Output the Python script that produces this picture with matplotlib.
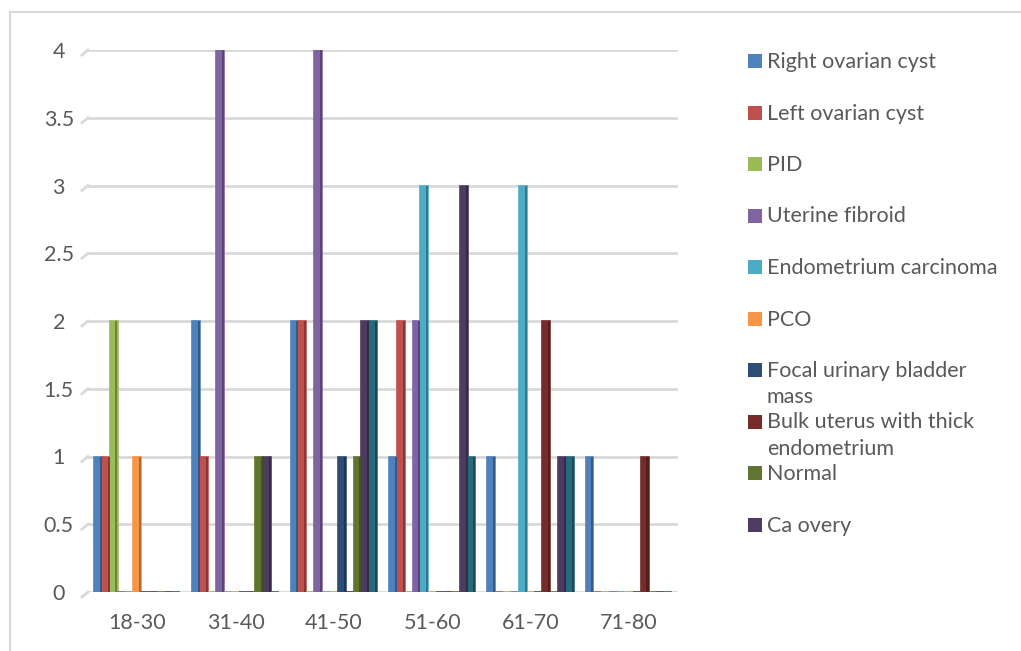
import matplotlib
matplotlib.use("Agg")
import matplotlib.pyplot as plt
from matplotlib.lines import Line2D
from matplotlib.patches import Rectangle
from matplotlib.colors import to_rgb
import numpy as np

age_groups = ["18-30", "31-40", "41-50", "51-60", "61-70", "71-80"]

right_ovarian_cyst = [1, 2, 2, 1, 1, 1]
left_ovarian_cyst = [1, 1, 2, 2, 0, 0]
pid = [2, 0, 0, 0, 0, 0]
uterine_fibroid = [0, 4, 4, 2, 0, 0]
endometrium_carcinoma = [0, 0, 0, 3, 3, 0]
pco = [1, 0, 0, 0, 0, 0]
focal_bladder_mass = [0, 0, 1, 0, 0, 0]
bulk_uterus = [0, 0, 0, 0, 2, 1]
normal = [0, 1, 1, 0, 0, 0]
ca_ovary = [0, 1, 2, 3, 1, 0]
unlabelled_series = [0, 0, 2, 1, 1, 0]

series = [right_ovarian_cyst, left_ovarian_cyst, pid, uterine_fibroid,
          endometrium_carcinoma, pco, focal_bladder_mass, bulk_uterus,
          normal, ca_ovary, unlabelled_series]

legend_labels = ["Right ovarian cyst", "Left ovarian cyst", "PID", "Uterine fibroid",
                 "Endometrium carcinoma", "PCO", "Focal urinary bladder\nmass",
                 "Bulk uterus with thick\nendometrium", "Normal", "Ca overy"]

colors = ["#4F81BD", "#C0504D", "#9BBB59", "#8064A2", "#4BACC6", "#F79646",
          "#2C4D75", "#772C2A", "#5F7530", "#4D3B62", "#276A7C"]

TEXT = "#595959"
GRID = "#D9D9D9"
FONT = "Lato"
FS = 15.5

W, H = 1021, 651
fig = plt.figure(figsize=(W / 100, H / 100), dpi=100)
fig.patch.set_facecolor("white")

# plot area in pixel terms
left, right, top, bottom = 88, 678, 50, 592
ax = fig.add_axes([left / W, 1 - bottom / H, (right - left) / W, (bottom - top) / H])

n = len(series)
bw = 0.08
x = np.arange(len(age_groups))
offsets = (np.arange(n) - (n - 1) / 2) * bw

for i, (vals, c) in enumerate(zip(series, colors)):
    xs = x + offsets[i]
    ax.bar(xs, vals, bw, color=c, edgecolor=c, linewidth=1.2, zorder=3)
    # darker right face for the bevelled look
    dark = tuple(v * 0.7 for v in to_rgb(c))
    ax.bar(xs + bw * 0.37, vals, bw * 0.26, color=dark, linewidth=0, zorder=4)

ax.set_xlim(-0.5, len(age_groups) - 0.5)
ax.set_ylim(0, 4)
ax.set_yticks(np.arange(0, 4.01, 0.5))
ax.set_yticklabels(["0", "0.5", "1", "1.5", "2", "2.5", "3", "3.5", "4"])
ax.set_xticks(x)
ax.set_xticklabels(age_groups)
ax.yaxis.grid(True, color=GRID, linewidth=2.0, zorder=0)
ax.set_axisbelow(True)
for s in ax.spines.values():
    s.set_visible(False)
ax.tick_params(length=0, labelsize=FS, labelcolor=TEXT)
ax.tick_params(axis="y", pad=21)
ax.tick_params(axis="x", pad=15)
for lab in ax.get_xticklabels() + ax.get_yticklabels():
    lab.set_fontfamily(FONT)
for lab in ax.get_yticklabels():
    lab.set_horizontalalignment("center")

# short slanted ends of the gridlines on the back wall
for yv in np.arange(0, 4.01, 0.5):
    y_px = bottom - (bottom - top) * yv / 4
    fig.add_artist(Line2D([(left - 6) / W, left / W],
                          [1 - (y_px + 5) / H, 1 - y_px / H],
                          color=GRID, linewidth=2.0))

# legend, one row per labelled series
row0, step = 61, 51.5
for i, lab in enumerate(legend_labels):
    yc = row0 + i * step
    fig.add_artist(Rectangle((748 / W, 1 - (yc + 7) / H), 14 / W, 14 / H,
                             transform=fig.transFigure, facecolor=colors[i],
                             edgecolor="none"))
    fig.text(767 / W, 1 - (yc - 9) / H, lab, ha="left", va="top",
             fontsize=FS, color=TEXT, family=FONT, linespacing=1.4)

# outer chart border
fig.add_artist(Line2D([10 / W, 10 / W], [0, 1 - 12 / H], color=GRID, linewidth=1.5))
fig.add_artist(Line2D([10 / W, 1], [1 - 12 / H, 1 - 12 / H], color=GRID, linewidth=1.5))

fig.savefig("out.png", dpi=100, facecolor="white")
